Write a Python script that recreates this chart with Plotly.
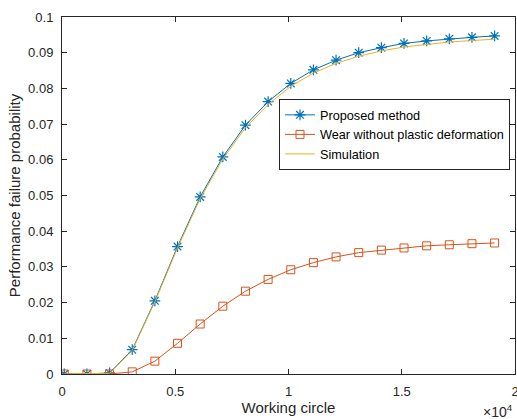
import plotly.graph_objects as go

# Working circle values (sample points)
cycles = [100, 1100, 2100, 3100, 4100, 5100, 6100, 7100, 8100, 9100,
          10100, 11100, 12100, 13100, 14100, 15100, 16100, 17100, 18100, 19100]

# Performance failure probability for each model
proposed = [0.0, 0.0, 0.0003, 0.0068, 0.0205, 0.0357, 0.0496, 0.0608, 0.0697, 0.0763,
            0.0814, 0.0852, 0.0879, 0.0900, 0.0914, 0.0926, 0.0933, 0.0939, 0.0943, 0.0947]
wear_no_plastic = [0.0, 0.0, 0.0, 0.0006, 0.0036, 0.0086, 0.0140, 0.0190, 0.0232, 0.0265,
                   0.0292, 0.0312, 0.0328, 0.0340, 0.0347, 0.0353, 0.0359, 0.0362, 0.0365, 0.0367]
simulation = [0.0, 0.0, 0.0002, 0.0066, 0.0202, 0.0353, 0.0491, 0.0602, 0.0690, 0.0755,
              0.0806, 0.0843, 0.0870, 0.0890, 0.0905, 0.0916, 0.0924, 0.0930, 0.0934, 0.0938]

x_tick_vals = [0, 5000, 10000, 15000, 20000]
x_tick_text = ["0", "0.5", "1", "1.5", "2"]
y_tick_vals = [0, 0.01, 0.02, 0.03, 0.04, 0.05, 0.06, 0.07, 0.08, 0.09, 0.1]
y_tick_text = ["0", "0.01", "0.02", "0.03", "0.04", "0.05", "0.06", "0.07", "0.08", "0.09", "0.1"]

BLUE = "#0072BD"
ORANGE = "#D95319"
YELLOW = "#EDB120"
AXIS = "#262626"
FONT = "Liberation Sans, Arial, sans-serif"

fig = go.Figure()
fig.add_trace(go.Scatter(
    x=cycles, y=proposed, mode="lines+markers", name="Proposed method",
    line=dict(color=BLUE, width=1),
    marker=dict(symbol="asterisk-open", size=9, color=BLUE, line=dict(color=BLUE, width=1.2)),
))
fig.add_trace(go.Scatter(
    x=cycles, y=wear_no_plastic, mode="lines+markers", name="Wear without plastic deformation",
    line=dict(color=ORANGE, width=1),
    marker=dict(symbol="square-open", size=8, color=ORANGE, line=dict(color=ORANGE, width=1)),
))
fig.add_trace(go.Scatter(
    x=cycles, y=simulation, mode="lines", name="Simulation",
    line=dict(color=YELLOW, width=1),
))

axis_common = dict(
    showline=True, linecolor=AXIS, linewidth=1, mirror="allticks",
    ticks="inside", ticklen=5, tickcolor=AXIS, tickwidth=1,
    showgrid=False, zeroline=False, ticklabeloverflow="allow", automargin=False,
    tickfont=dict(family=FONT, size=13, color=AXIS),
)

fig.update_xaxes(
    range=[0, 20000], tickvals=x_tick_vals, ticktext=x_tick_text,
    ticklabelstandoff=5,
    title=dict(text="Working circle", font=dict(family=FONT, size=15, color=AXIS), standoff=3),
    **axis_common,
)
fig.update_yaxes(
    range=[0, 0.1], tickvals=y_tick_vals, ticktext=y_tick_text,
    ticklabelstandoff=5,
    title=dict(text="Performance failure probability", font=dict(family=FONT, size=15, color=AXIS), standoff=3),
    **axis_common,
)

fig.add_annotation(
    xref="paper", yref="paper", x=1.0, y=0, yshift=-26, xanchor="right", yanchor="top",
    text="×10<sup>4</sup>", showarrow=False,
    font=dict(family=FONT, size=14, color=AXIS),
)

fig.update_layout(
    width=517, height=419,
    margin=dict(l=62, r=2, t=17, b=45),
    paper_bgcolor="white", plot_bgcolor="white",
    font=dict(family=FONT, color=AXIS),
    showlegend=True,
    legend=dict(
        x=0.479, y=0.77, xanchor="left", yanchor="top",
        bgcolor="white", bordercolor=AXIS, borderwidth=1,
        font=dict(family=FONT, size=12.7, color="black"),
        tracegroupgap=0, itemwidth=30,
    ),
)

fig.write_html("out.html")
